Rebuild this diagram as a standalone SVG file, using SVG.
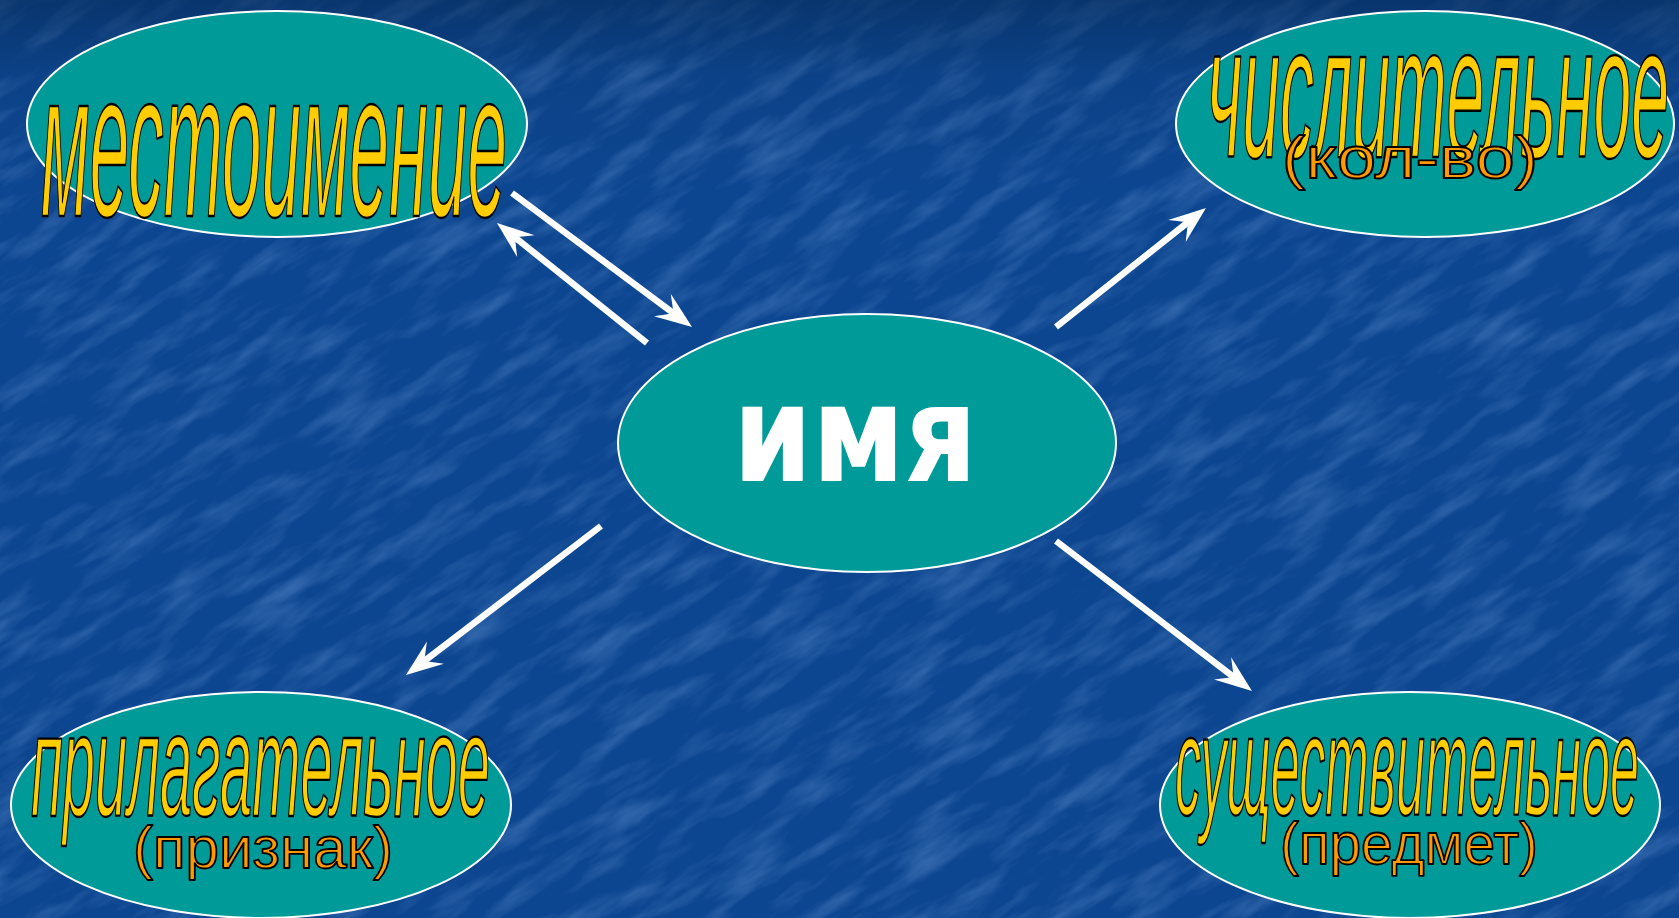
<svg xmlns="http://www.w3.org/2000/svg" width="1679" height="918" viewBox="0 0 1679 918">
<defs>
<style>
.node ellipse{fill:#009a98;stroke:#ffffff;stroke-width:2}
.main{font-family:"Liberation Sans",Arial,sans-serif;font-style:italic;fill:#ffcc00;stroke:#000;stroke-width:2.4;stroke-linejoin:round}
.sub{font-family:"Liberation Sans",Arial,sans-serif;font-size:60px;fill:#ff9900;stroke:#000;stroke-width:1.8;stroke-linejoin:round}
.center{font-family:"DejaVu Sans",Verdana,sans-serif;font-weight:bold;font-size:135px;fill:#ffffff}
.conn line{stroke:#ffffff;stroke-width:6.5;fill:none}
</style>
<marker id="ah" viewBox="0 0 38 30" refX="17" refY="15" markerWidth="38" markerHeight="30" markerUnits="userSpaceOnUse" orient="auto">
<path d="M0,1 L37,15 L0,29 L14,15 Z" fill="#ffffff"/>
</marker>
<linearGradient id="topshade" x1="0" y1="0" x2="0" y2="1">
<stop offset="0" stop-color="#04264f" stop-opacity="0.55"/>
<stop offset="0.08" stop-color="#04264f" stop-opacity="0.15"/>
<stop offset="0.2" stop-color="#04264f" stop-opacity="0"/>
<stop offset="1" stop-color="#04264f" stop-opacity="0"/>
</linearGradient>
<filter id="tex" x="0" y="0" width="100%" height="100%" filterUnits="objectBoundingBox">
<feTurbulence type="fractalNoise" baseFrequency="0.012 0.05" numOctaves="4" seed="7"/>
<feColorMatrix type="matrix" values="0 0 0 0 0.28  0 0 0 0 0.50  0 0 0 0 0.90  1.4 0 0 0 -0.62"/>
</filter>
</defs>
<rect width="1679" height="918" fill="#0d4690"/>
<g transform="rotate(-33 840 459)">
<rect x="-700" y="-900" width="3100" height="2700" filter="url(#tex)" opacity="0.45"/>
</g>
<rect width="1679" height="918" fill="url(#topshade)"/>

<g class="conn" id="connectors">
<line x1="512" y1="193" x2="676" y2="315.1" marker-end="url(#ah)"/>
<line x1="647" y1="343" x2="512.6" y2="235.5" marker-end="url(#ah)"/>
<line x1="1056" y1="327" x2="1190.3" y2="220.4" marker-end="url(#ah)"/>
<line x1="601" y1="526" x2="421.9" y2="662.9" marker-end="url(#ah)"/>
<line x1="1056" y1="541" x2="1236.1" y2="678.8" marker-end="url(#ah)"/>
</g>

<g class="node" id="node-mestoimenie">
<ellipse cx="277" cy="124" rx="250" ry="113"/>
<text class="main" x="41" y="216" font-size="208" textLength="466" lengthAdjust="spacingAndGlyphs">местоимение</text>
</g>

<g class="node" id="node-chislitelnoe">
<ellipse cx="1425" cy="124" rx="249" ry="113"/>
<text class="main" x="1207" y="157" font-size="190" textLength="462" lengthAdjust="spacingAndGlyphs">числительное</text>
<text class="sub" x="1282" y="178" textLength="256" lengthAdjust="spacingAndGlyphs">(кол-во)</text>
</g>

<g class="node" id="node-imya">
<ellipse cx="867" cy="443" rx="249" ry="129"/>
<text class="center" x="733" y="481" textLength="244" lengthAdjust="spacingAndGlyphs">имя</text>
</g>

<g class="node" id="node-prilagatelnoe">
<ellipse cx="261" cy="805" rx="250" ry="113"/>
<text class="main" x="31" y="816" font-size="146" textLength="459" lengthAdjust="spacingAndGlyphs">прилагательное</text>
<text class="sub" x="133" y="868" textLength="260" lengthAdjust="spacingAndGlyphs">(признак)</text>
</g>

<g class="node" id="node-sushchestvitelnoe">
<ellipse cx="1410" cy="805" rx="250" ry="113"/>
<text class="main" x="1175" y="815" font-size="143" textLength="464" lengthAdjust="spacingAndGlyphs">существительное</text>
<text class="sub" x="1280" y="864" textLength="258" lengthAdjust="spacingAndGlyphs">(предмет)</text>
</g>
</svg>
